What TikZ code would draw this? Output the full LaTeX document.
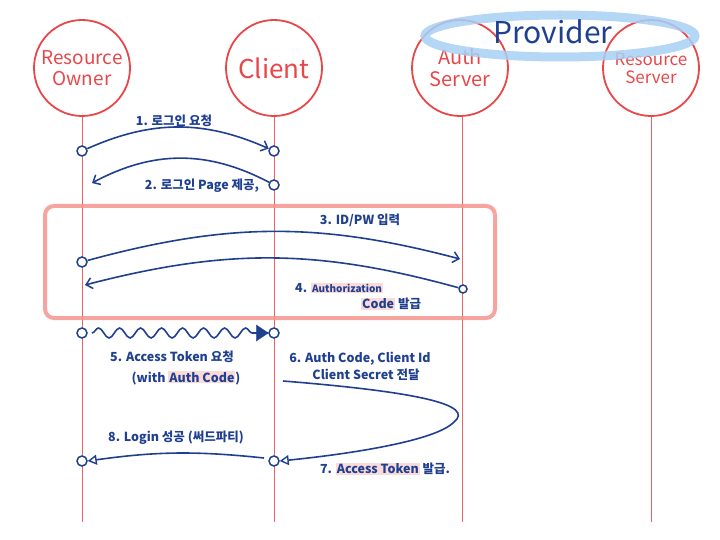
\documentclass[tikz,border=0pt]{standalone}
\usepackage{fontspec}
\setmainfont{Noto Sans CJK KR}
\usetikzlibrary{arrows.meta,decorations.pathmorphing}
\definecolor{actred}{HTML}{E8474A}
\definecolor{navy}{HTML}{1F3F8F}
\definecolor{salmon}{HTML}{F5948C}
\definecolor{provblue}{HTML}{A8D0F5}
\definecolor{hlpink}{HTML}{FBDADA}
\newcommand\hlt[1]{{\setlength{\fboxsep}{1pt}\colorbox{hlpink}{#1}}}
\tikzset{
  actor/.style={circle, draw=actred, line width=1.8pt, minimum size=96pt, inner sep=0pt, text=actred, align=center},
  lifeline/.style={draw=actred!85, line width=1pt},
  dot/.style={circle, draw=navy, line width=1.5pt, fill=white, minimum size=10pt, inner sep=0pt},
  msg/.style={draw=navy, line width=1.6pt},
  lbl/.style={text=navy, font=\fontsize{12.5}{14}\selectfont\bfseries, inner sep=1pt},
  barb/.style={-{Straight Barb[length=6pt,width=11pt,line width=1.5pt]}},
  opentri/.style={-{Triangle[open,length=9pt,width=10pt,line width=1.4pt]}},
}
\begin{document}
\begin{tikzpicture}[x=1pt,y=-1pt]
\useasboundingbox (0,0) rectangle (720,540);
% actors
\node[actor, font=\fontsize{19}{21}\selectfont] (RO) at (82,68) {Resource\\Owner};
\node[actor, font=\fontsize{26}{28}\selectfont] (CL) at (274,68) {Client};
\node[actor, font=\fontsize{20}{22}\selectfont] (AS) at (460,68) {Auth\\Server};
\node[actor, font=\fontsize{17}{18}\selectfont] (RS) at (651,68) {Resource\\Server};
% provider
\draw[provblue, line width=9pt, opacity=0.85] (560,36) ellipse (135pt and 21pt);
\node[text=navy, font=\fontsize{30}{32}\selectfont] (PV) at (553,32) {Provider};
% lifeline ends
\coordinate (ROe) at (82,522);
\coordinate (CLe) at (274,522);
\coordinate (ASe) at (462,522);
\coordinate (RSe) at (651,522);
\draw[lifeline] (RO.south) -- (ROe);
\draw[lifeline] (CL.south) -- (CLe);
\draw[lifeline] ([xshift=2pt]AS.south) -- (ASe);
\draw[lifeline] (RS.south) -- (RSe);
% highlight box for 3-4
\draw[salmon, line width=4pt, rounded corners=9pt, opacity=0.85] (45,206) rectangle (495,318);
% message 1
\node[dot] (d1a) at (82,151) {};
\node[dot] (d1b) at (274,151) {};
\draw[msg, barb] (d1a) to[bend left=24] (d1b);
\node[lbl] (l1) at (174,121) {1. 로그인 요청};
% message 2
\node[dot] (d2a) at (274,185) {};
\coordinate (e2) at (92,183);
\draw[msg, barb] (d2a) to[bend right=28] (e2);
\node[lbl] (l2) at (202,186) {2. 로그인 Page 제공,};
% message 3
\node[dot] (d3a) at (82,262) {};
\coordinate (e3) at (460,259);
\draw[msg, barb] (d3a) to[bend left=15] (e3);
\node[lbl] (l3) at (360,220) {3. ID/PW 입력};
% message 4
\node[dot, minimum size=8pt] (d4a) at (463,289) {};
\coordinate (e4) at (85,285);
\draw[msg, barb] (d4a) to[bend right=15] (e4);
\node[lbl, anchor=west] (l4a) at (294,288) {4. \hlt{\fontsize{10}{12}\selectfont Authorization}};
\node[lbl, anchor=west] (l4b) at (360,304) {\hlt{Code} 발급};
% message 5
\node[dot] (d5a) at (82,333) {};
\node[dot] (d5b) at (274,333) {};
\draw[msg, decorate, decoration={snake, amplitude=5pt, segment length=21pt, post length=10pt}] (92,333) -- (d5b.west);
\draw[navy, fill=navy] (d5b.west) -- ++(-12,-8) -- ++(0,16) -- cycle;
\node[lbl] (l5a) at (172,357) {5. Access Token 요청};
\node[lbl] (l5b) at (186,378) {(with \hlt{Auth Code})};
% message 6/7
\coordinate (s6) at (283,381);
\node[dot] (d8a) at (274,461) {};
\draw[msg, opentri] (s6) .. controls (420,392) and (475,405) .. (454,422) .. controls (435,442) and (340,455) .. (d8a.east);
\node[lbl] (l6a) at (360,359) {6. Auth Code, Client Id};
\node[lbl] (l6b) at (366,375) {Client Secret 전달};
\node[lbl] (l7) at (385,469) {7. \hlt{Access Token} 발급.};
% message 8
\node[dot] (d8b) at (82,461) {};
\coordinate (s8) at (264,458);
\draw[msg, opentri] (s8) to[bend right=7] (d8b.east);
\node[lbl] (l8) at (176,438) {8. Login 성공 (써드파티)};
\end{tikzpicture}
\end{document}
